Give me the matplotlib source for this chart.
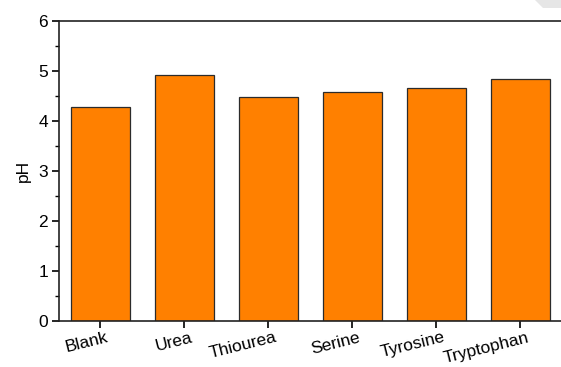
import numpy as np
import matplotlib
matplotlib.use("Agg")
import matplotlib.pyplot as plt
import matplotlib.transforms as mtransforms
from matplotlib.patches import Polygon
from matplotlib.ticker import MultipleLocator

#-------data-------
samples = ["Blank", "Urea", "Thiourea", "Serine", "Tyrosine", "Tryptophan"]
ph_values = [4.28, 4.92, 4.49, 4.58, 4.67, 4.84]

#-------graph-------
plt.rcParams['font.family'] = ['Liberation Sans', 'DejaVu Sans']
fig = plt.figure(figsize=(5.61, 3.67), dpi=100)
ax = fig.add_axes([59/561, 1 - 321/367, 504/561, 300/367])

x = np.arange(len(samples))
ax.bar(x, ph_values, width=0.70, color="#ff8000",
       edgecolor="#2b2b2b", linewidth=0.9, zorder=2)

ax.set_xlim(-0.49, 5.51)
ax.set_ylim(0, 6)
ax.yaxis.set_major_locator(MultipleLocator(1))
ax.yaxis.set_minor_locator(MultipleLocator(0.5))
ax.set_xticks(x)
ax.set_xticklabels([])
# rotated labels, shifted a little right of the tick like in the original
offset = mtransforms.ScaledTranslation(10/100, -9/100, fig.dpi_scale_trans)
for xi, name in zip(x, samples):
    ax.text(xi, 0, name, rotation=14, ha="right", va="top", fontsize=12.5,
            transform=ax.get_xaxis_transform() + offset)

ax.tick_params(axis="y", which="major", direction="out", length=5, width=1.2,
               labelsize=12.5, pad=3)
ax.tick_params(axis="y", which="minor", direction="out", length=3, width=1.0)
ax.tick_params(axis="x", which="major", direction="out", length=5, width=1.2, pad=2)
ax.set_ylabel("pH", fontsize=12.5, labelpad=5)

for side in ["left", "bottom", "top", "right"]:
    ax.spines[side].set_linewidth(1.2)
    ax.spines[side].set_color("#222222")

# grey corner from the scanned page
fig.patches.append(Polygon([(535/561, 1), (1, 1), (1, 1 - 8/367), (543/561, 1 - 8/367)],
                           closed=True, transform=fig.transFigure,
                           facecolor="#e6e6e6", edgecolor="none"))

fig.savefig("out.png", dpi=100)
